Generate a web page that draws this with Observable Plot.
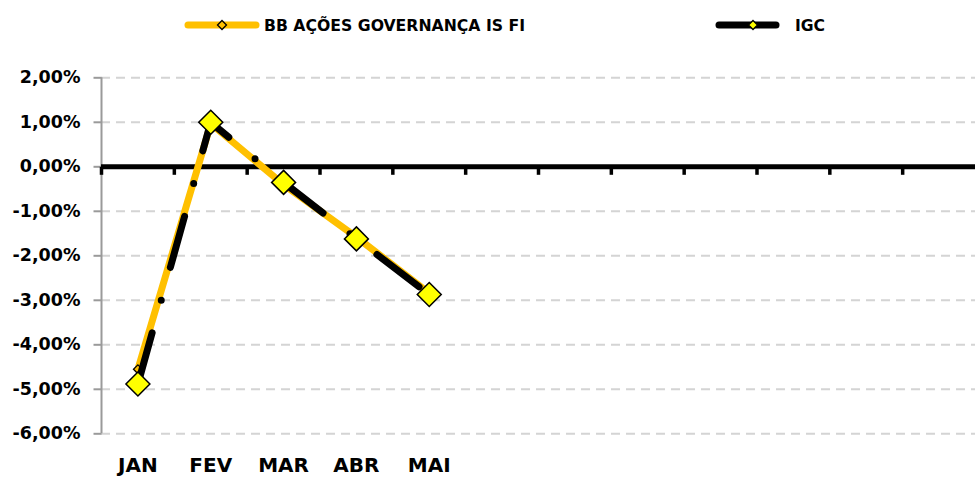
<!DOCTYPE html>
<html>
<head>
<meta charset="utf-8">
<script src="https://cdn.jsdelivr.net/npm/d3@7"></script>
<script src="https://cdn.jsdelivr.net/npm/@observablehq/plot@0.6"></script>
<style>
  html, body { margin: 0; padding: 0; background: #fff; }
  #legend { width: 975px; height: 50px; display: block; }
  #chart svg { display: block; }
</style>
</head>
<body>
<div id="chart"></div>
<script>
// ---- data ----
const months = ["JAN","FEV","MAR","ABR","MAI","JUN","JUL","AGO","SET","OUT","NOV","DEZ"];
const monthLabels = ["JAN","FEV","MAR","ABR","MAI","","","","","","",""];
const fundName = "BB AÇÕES GOVERNANÇA IS FI";
const indexName = "IGC";
const fundValues = [-4.55, 0.97, -0.40, -1.58, -2.84];
const igcValues  = [-4.88, 1.00, -0.35, -1.62, -2.87];
const yTicks = [2, 1, 0, -1, -2, -3, -4, -5, -6];

const ORANGE = "#FFC000";
const YELLOW = "#FFFF00";

const fund = fundValues.map((v, i) => ({month: months[i], value: v}));
const igc = igcValues.map((v, i) => ({month: months[i], value: v}));
const labels = months.map((m, i) => ({month: m, label: monthLabels[i]}));

const W = 975, H = 427, ML = 101, MR = 0, MT = 27.3, MB = 43.7;
const step = (W - ML - MR) / months.length;
const fmt = d => d.toFixed(2).replace(".", ",") + "%";

// ---- legend (above the SVG) ----
const chart = document.getElementById("chart");
const legend = d3.create("svg").attr("id", "legend").attr("width", W).attr("height", 50);
const legFont = "'DejaVu Sans Condensed', 'DejaVu Sans', sans-serif";
function diamond(g, cx, cy, r, fill) {
  g.append("path")
    .attr("d", `M${cx},${cy - r}L${cx + r},${cy}L${cx},${cy + r}L${cx - r},${cy}Z`)
    .attr("fill", fill).attr("stroke", "#000").attr("stroke-width", 1.3);
}
legend.append("line").attr("x1", 188).attr("x2", 256).attr("y1", 25).attr("y2", 25)
  .attr("stroke", ORANGE).attr("stroke-width", 7).attr("stroke-linecap", "round");
diamond(legend, 222, 25, 4.5, ORANGE);
legend.append("text").attr("x", 264).attr("y", 31).text(fundName)
  .attr("font-family", legFont).attr("font-weight", "bold").attr("font-size", 16)
  .attr("textLength", 261).attr("lengthAdjust", "spacingAndGlyphs");
legend.append("line").attr("x1", 719).attr("x2", 776).attr("y1", 25).attr("y2", 25)
  .attr("stroke", "#000").attr("stroke-width", 7).attr("stroke-linecap", "round");
diamond(legend, 753, 25, 4.5, YELLOW);
legend.append("text").attr("x", 795).attr("y", 31).text(indexName)
  .attr("font-family", legFont).attr("font-weight", "bold").attr("font-size", 16)
  .attr("textLength", 30).attr("lengthAdjust", "spacingAndGlyphs");
chart.appendChild(legend.node());

// custom symbols for tick marks
const hTick = {draw(ctx) { ctx.moveTo(-8, 0); ctx.lineTo(0, 0); }};
const vTick = {draw(ctx) { ctx.moveTo(0, 0); ctx.lineTo(0, 8); }};

const plot = Plot.plot({
  width: W,
  height: H,
  marginLeft: ML,
  marginRight: MR,
  marginTop: MT,
  marginBottom: MB,
  style: {background: "#fff", overflow: "visible", fontFamily: "'DejaVu Sans', sans-serif"},
  x: {type: "point", domain: months, padding: 0.5, round: false, axis: null},
  y: {domain: [-6, 2], axis: null},
  marks: [
    // dashed gridlines
    Plot.ruleY(yTicks.filter(d => d !== 0), {stroke: "#d4d4d4", strokeWidth: 2, strokeDasharray: "9,6"}),
    // y axis line
    Plot.ruleX([months[0]], {x: d => d, dx: -step / 2, y1: -6, y2: 2, stroke: "#9a9a9a", strokeWidth: 2}),
    // y tick marks
    Plot.dot(yTicks, {y: d => d, frameAnchor: "left", symbol: hTick, stroke: "#9a9a9a", strokeWidth: 2, r: 1}),
    // y tick labels
    Plot.text(yTicks, {y: d => d, text: fmt, frameAnchor: "left", textAnchor: "end", dx: -21,
      fontSize: 17.5, fontWeight: "bold", fill: "#000"}),
    // zero line
    Plot.ruleY([0], {stroke: "#000", strokeWidth: 5}),
    // x ticks on zero line at category boundaries
    Plot.dot(months, {x: d => d, y: () => 0, dx: -step / 2, symbol: vTick, stroke: "#000", strokeWidth: 3.5, r: 1}),
    // x labels
    Plot.text(labels, {x: "month", text: "label", frameAnchor: "bottom", dy: 32, lineAnchor: "middle",
      fontSize: 20, fontWeight: "bold", fill: "#000"}),
    // fund series
    Plot.line(fund, {x: "month", y: "value", stroke: ORANGE, strokeWidth: 7, strokeLinejoin: "round", strokeLinecap: "round"}),
    Plot.dot(fund, {x: "month", y: "value", symbol: "diamond2", r: 4, fill: ORANGE, stroke: "#000", strokeWidth: 1.3}),
    // IGC series
    Plot.line(igc, {x: "month", y: "value", stroke: "#000", strokeWidth: 7, strokeLinejoin: "round",
      strokeLinecap: "round", strokeDasharray: "53,34,0,34"}),
    Plot.dot(igc, {x: "month", y: "value", symbol: "diamond2", r: 10.8, fill: YELLOW, stroke: "#000", strokeWidth: 1.5})
  ]
});
chart.appendChild(plot);
</script>
</body>
</html>
